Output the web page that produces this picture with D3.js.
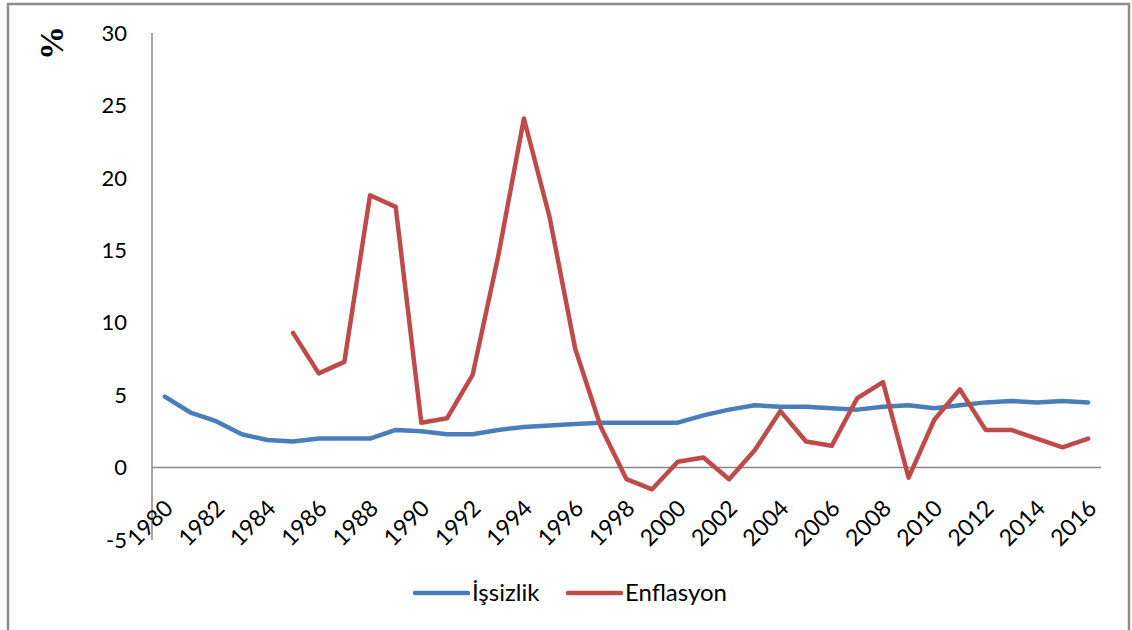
<!DOCTYPE html>
<html>
<head>
<meta charset="utf-8">
<script src="https://cdn.jsdelivr.net/npm/d3@7"></script>
<style>
  body { margin: 0; background: #fff; }
  text { font-family: Lato, "Open Sans", sans-serif; fill: #000; }
</style>
</head>
<body>
<svg id="chart" width="1132" height="630"></svg>
<script>
// years and values
const years = d3.range(1980, 2017)
const issizlik = [4.9, 3.8, 3.2, 2.3, 1.9, 1.8, 2.0, 2.0, 2.0, 2.6,
  2.5, 2.3, 2.3, 2.6, 2.8, 2.9, 3.0, 3.1, 3.1, 3.1,
  3.1, 3.6, 4.0, 4.3, 4.2, 4.2, 4.1, 4.0, 4.2, 4.3,
  4.1, 4.3, 4.5, 4.6, 4.5, 4.6, 4.5]
// no inflation data before 1985
const enflasyon = [null, null, null, null, null, 9.3, 6.5, 7.3, 18.8, 18.0,
  3.1, 3.4, 6.4, 14.6, 24.1, 17.3, 8.2, 2.8, -0.8, -1.5,
  0.4, 0.7, -0.8, 1.2, 3.9, 1.8, 1.5, 4.8, 5.9, -0.7,
  3.3, 5.4, 2.6, 2.6, 2.0, 1.4, 2.0]
const yTicks = [-5, 0, 5, 10, 15, 20, 25, 30]
const seriesNames = ["İşsizlik", "Enflasyon"]
const colors = ["#4A7EBB", "#BE4B48"]

let svg = d3.select("#chart")

// outer frame
svg.append("rect")
    .attr("x", 8).attr("y", 4)
    .attr("width", 1121).attr("height", 640)
    .attr("fill", "none")
    .attr("stroke", "#8c8c8c")
    .attr("stroke-width", 2.5)

let x = d3.scalePoint().domain(years).range([152, 1101]).padding(0.5)
let y = d3.scaleLinear().domain([-5, 30]).range([540, 33])

// y axis line + labels
svg.append("line")
    .attr("x1", 152).attr("x2", 152)
    .attr("y1", y(30)).attr("y2", y(-5))
    .attr("stroke", "#868686").attr("stroke-width", 1.5)

svg.selectAll(".ylab")
    .data(yTicks)
    .enter()
    .append("text")
    .attr("class", "ylab")
    .attr("x", 127)
    .attr("y", function (d) { return y(d) })
    .attr("dy", "0.35em")
    .attr("text-anchor", "end")
    .style("font-size", "22px")
    .text(function (d) { return d })

// zero line acts as the category axis
svg.append("line")
    .attr("x1", 152).attr("x2", 1101)
    .attr("y1", y(0)).attr("y2", y(0))
    .attr("stroke", "#868686").attr("stroke-width", 1.5)

svg.selectAll(".xlab")
    .data(years.filter(function (d) { return d % 2 == 0 }))
    .enter()
    .append("text")
    .attr("class", "xlab")
    .attr("text-anchor", "end")
    .attr("transform", function (d) { return "translate(" + (x(d) + 4) + "," + 504 + ") rotate(-45)" })
    .attr("dy", "0.35em")
    .style("font-size", "23px")
    .text(function (d) { return d })

// % label
svg.append("text")
    .attr("transform", "translate(63,43) rotate(-90)")
    .attr("text-anchor", "middle")
    .style("font-family", "'Liberation Serif', serif")
    .style("font-weight", "bold")
    .style("font-size", "34px")
    .text("%")

// lines
let line = d3.line()
    .defined(function (d) { return d.v != null })
    .x(function (d) { return x(d.year) })
    .y(function (d) { return y(d.v) })

let allSeries = [issizlik, enflasyon]
allSeries.forEach(function (vals, i) {
    let pts = years.map(function (yr, j) { return { year: yr, v: vals[j] } })
    svg.append("path")
        .datum(pts)
        .attr("fill", "none")
        .attr("stroke", colors[i])
        .attr("stroke-width", 4.5)
        .attr("stroke-linejoin", "round")
        .attr("stroke-linecap", "round")
        .attr("d", line)
})

// legend
let legendX = [415, 568]
seriesNames.forEach(function (name, i) {
    svg.append("line")
        .attr("x1", legendX[i]).attr("x2", legendX[i] + 53)
        .attr("y1", 593).attr("y2", 593)
        .attr("stroke", colors[i])
        .attr("stroke-width", 4.5)
        .attr("stroke-linecap", "round")
    svg.append("text")
        .attr("x", legendX[i] + 57)
        .attr("y", 593)
        .attr("dy", "0.35em")
        .style("font-size", "24px")
        .text(name)
})
</script>
</body>
</html>
